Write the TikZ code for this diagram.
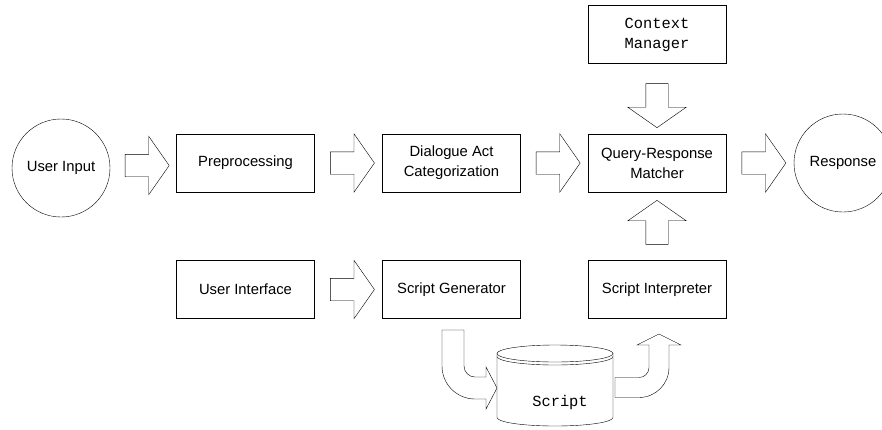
\documentclass[tikz,border=0pt]{standalone}
\usepackage{fontspec}
\setmainfont{Liberation Sans}
\setmonofont{Liberation Mono}
\usetikzlibrary{shapes.arrows,calc}

\begin{document}
\begin{tikzpicture}[x=1pt,y=-1pt,
		box/.style={draw, minimum width=138pt, minimum height=58pt, align=center, font=\fontsize{14.8}{20}\selectfont},
		codebox/.style={box, font=\ttfamily\fontsize{15.4}{20}\selectfont},
		blob/.style={draw, circle, minimum size=98pt, inner sep=0pt, font=\fontsize{14.8}{18}\selectfont},
		bigarrow/.style={draw, single arrow, minimum height=44pt, minimum width=58pt, inner sep=11pt, single arrow head extend=18pt, single arrow tip angle=110}]
		\useasboundingbox (0,0) rectangle (882,429);
		\node[blob] (in) at (61,168) {User Input};
		\node[box] (pre) at (245.5,163) {Preprocessing};
		\node[box] (dact) at (451.5,163) {Dialogue Act\\Categorization};
		\node[box] (match) at (657,163) {Query-Response\\Matcher};
		\node[blob] (resp) at (843,163) {Response};
		\node[codebox] (ctx) at (657,34.5) {Context\\Manager};
		\node[box] (ui) at (245.5,289.5) {User Interface};
		\node[box] (gen) at (451.5,289.5) {Script Generator};
		\node[box] (interp) at (657,289.5) {Script Interpreter};
		\node[bigarrow] (a1) at ($(in.east)!.5!(pre.west)$) {};
		\node[bigarrow] (a2) at ($(pre.east)!.5!(dact.west)$) {};
		\node[bigarrow] (a3) at ($(dact.east)!.5!(match.west)$) {};
		\node[bigarrow] (a4) at ($(match.east)!.5!(resp.west)$) {};
		\node[bigarrow] (a5) at ($(ui.east)!.5!(gen.west)$) {};
		\node[bigarrow, shape border rotate=270] (a6) at ($(ctx.south)!.5!(match.north)+(0,3)$) {};
		\node[bigarrow, shape border rotate=90] (a7) at ($(interp.north)!.5!(match.south)$) {};
		\draw (555,353.5) ellipse [x radius=58, y radius=8.5];
		\draw (497,356.5) arc [start angle=180, end angle=0, x radius=58, y radius=8.5];
		\draw (497,353.5) -- (497,417.5) arc [start angle=180, end angle=0, x radius=58, y radius=8.5] -- (613,353.5);
		\node[font=\ttfamily\fontsize{15.4}{18}\selectfont] (db) at (560,403) {Script};
		\draw (442,330) -- (442,366) arc [start angle=180, end angle=90, radius=33] -- (486,399) -- (486,409) -- (497,388) -- (486,367) -- (486,377) -- (475,377) arc [start angle=90, end angle=180, radius=11] -- (464,330) -- cycle;
		\draw (615,377.5) -- (639,377.5) arc [start angle=90, end angle=0, radius=10] -- (649,345) -- (637,345) -- (659,334) -- (681,345) -- (669,345) -- (669,367.5) arc [start angle=0, end angle=90, radius=30] -- (615,397.5) -- cycle;
	\end{tikzpicture}
\end{document}
